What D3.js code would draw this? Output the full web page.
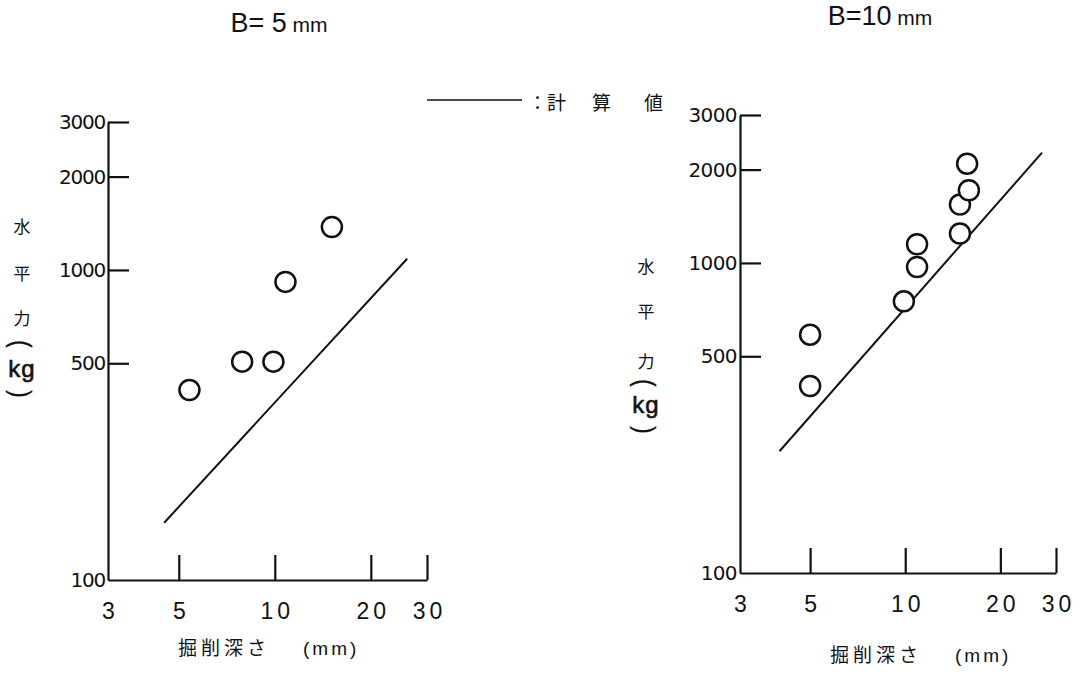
<!DOCTYPE html>
<html>
<head>
<meta charset="utf-8">
<script src="https://cdn.jsdelivr.net/npm/d3@7"></script>
<style>
  body { margin: 0; background: #fff; }
  svg { display: block; }
</style>
</head>
<body>
<svg id="chart" width="1084" height="676" font-family="Liberation Sans, Arial, sans-serif"></svg>
<script>
// ---- data ----
const xTicks = [3, 5, 10, 20, 30];
const yTicks = [100, 500, 1000, 2000, 3000];

// B = 5 mm
const leftDepth = [5.4, 7.9, 9.9, 10.8, 15.1];
const leftForce = [410, 506, 506, 915, 1376];
const leftCalcDepth = [4.5, 26];
const leftCalcForce = [153, 1087];

// B = 10 mm
const rightDepth = [5.0, 5.0, 9.9, 10.9, 10.9, 14.9, 14.9, 15.9, 15.7];
const rightForce = [587, 401, 752, 970, 1149, 1244, 1543, 1716, 2090];
const rightCalcDepth = [4.0, 27.1];
const rightCalcForce = [247, 2270];

const titles = [["B= 5", " mm"], ["B=10", " mm"]];
const yTitleChars = ["水", "平", "力"];
const yUnit = ["(", "kg", ")"];
const xTitle = "掘削深さ";
const xUnit = "(mm)";
const legendText = ["：", "計", "算", "値"];

const CJK = "'Noto Sans CJK JP', 'Noto Sans CJK SC', sans-serif";
const DEJAVU = "'DejaVu Sans', sans-serif";
const LIB = "'Liberation Sans', Arial, sans-serif";

// ---- layout ----
const svg = d3.select("#chart");
const panels = [
  { x0: 108, x1: 427, y0: 580, y1: 122, depth: leftDepth, force: leftForce,
    cd: leftCalcDepth, cf: leftCalcForce, title: titles[0], tx: 279, ty: 32,
    ytx: 22, yty: [225, 272, 317, 344, 368, 394], xtx: 178, xty: 655, ls: -1.2 },
  { x0: 740, x1: 1056, y0: 573, y1: 115, depth: rightDepth, force: rightForce,
    cd: rightCalcDepth, cf: rightCalcForce, title: titles[1], tx: 880, ty: 25,
    ytx: 646, yty: [265, 310, 360, 383, 404, 430], xtx: 830, xty: 662, ls: -0.6 }
];

panels.forEach((p, i) => {
  const x = d3.scaleLog().domain([3, 30]).range([p.x0, p.x1]);
  const y = d3.scaleLog().domain([100, 3000]).range([p.y0, p.y1]);
  const g = svg.append("g");

  // x axis
  const xa = g.append("g").attr("transform", `translate(0,${p.y0})`)
    .call(d3.axisBottom(x).tickValues(xTicks).tickFormat(d3.format("d"))
      .tickSizeInner(-25).tickSizeOuter(0).tickPadding(23));
  xa.select(".domain").attr("stroke", "#111").attr("stroke-width", 2.2);
  xa.selectAll(".tick line").attr("stroke", "#111").attr("stroke-width", 2.2)
    .filter(d => d === 3).remove();
  xa.selectAll(".tick text").attr("fill", "#111")
    .style("font-family", LIB).style("font-size", "23px")
    .attr("letter-spacing", d => d >= 10 ? 4 : 0)
    .attr("dx", d => d >= 10 ? 2 : 0);

  // y axis
  const ya = g.append("g").attr("transform", `translate(${p.x0},0)`)
    .call(d3.axisLeft(y).tickValues(yTicks).tickFormat(d3.format("d"))
      .tickSizeInner(-21).tickSizeOuter(0).tickPadding(3));
  ya.select(".domain").attr("stroke", "#111").attr("stroke-width", 2.2);
  ya.selectAll(".tick line").attr("stroke", "#111").attr("stroke-width", 2.2)
    .filter(d => d === 100).remove();
  ya.selectAll(".tick text").attr("fill", "#111")
    .style("font-family", DEJAVU).style("font-size", "20px")
    .attr("letter-spacing", p.ls);

  // calculated line
  const line = d3.line().x(d => x(d[0])).y(d => y(d[1]));
  g.append("path").datum(d3.zip(p.cd, p.cf)).attr("d", line)
    .attr("fill", "none").attr("stroke", "#111").attr("stroke-width", 2);

  // measured points
  g.selectAll("circle.pt").data(d3.zip(p.depth, p.force)).join("circle")
    .attr("class", "pt")
    .attr("cx", d => x(d[0])).attr("cy", d => y(d[1])).attr("r", 10)
    .attr("fill", "#fff").attr("stroke", "#111").attr("stroke-width", 2.5);

  // title
  const t = svg.append("text").attr("x", p.tx).attr("y", p.ty)
    .attr("text-anchor", "middle").style("font-family", LIB).style("font-size", "27px")
    .attr("fill", "#111");
  t.append("tspan").text(p.title[0]);
  t.append("tspan").style("font-size", "21px").text(p.title[1]);

  // y title
  yTitleChars.forEach((c, k) => {
    svg.append("text").attr("x", p.ytx).attr("y", p.yty[k])
      .attr("text-anchor", "middle").attr("dominant-baseline", "central")
      .style("font-family", CJK).style("font-size", "17px").attr("fill", "#111").text(c);
  });
  [3, 5].forEach((k, j) => {
    svg.append("g").attr("transform", `translate(${p.ytx},${p.yty[k]})`)
      .append("g").attr("transform", "rotate(90) scale(1,1.25)")
      .append("text").attr("x", 0).attr("y", 0)
      .attr("text-anchor", "middle").attr("dominant-baseline", "central")
      .style("font-family", LIB).style("font-size", "22px").attr("fill", "#111")
      .attr("stroke", "#111").attr("stroke-width", 0.3)
      .text(yUnit[j * 2]);
  });
  svg.append("text").attr("x", p.ytx).attr("y", p.yty[4])
    .attr("text-anchor", "middle").attr("dominant-baseline", "central")
    .style("font-family", LIB).style("font-size", "24px")
    .attr("letter-spacing", 1).attr("fill", "#111").attr("stroke", "#111")
    .attr("stroke-width", 0.6).text(yUnit[1]);

  // x title
  svg.append("text").attr("x", p.xtx).attr("y", p.xty)
    .style("font-family", CJK).style("font-size", "19px").attr("fill", "#111")
    .attr("letter-spacing", 4).text(xTitle);
  svg.append("text").attr("x", p.xtx + 125).attr("y", p.xty)
    .style("font-family", LIB).style("font-size", "19px").attr("fill", "#111")
    .attr("letter-spacing", 3).text(xUnit);
});

// legend
svg.append("line").attr("x1", 427).attr("x2", 522).attr("y1", 100).attr("y2", 100)
  .attr("stroke", "#111").attr("stroke-width", 1.6);
const lx = [528, 547, 592, 644];
legendText.forEach((c, k) => {
  svg.append("text").attr("x", lx[k]).attr("y", 101)
    .attr("dominant-baseline", "central").style("font-family", CJK)
    .style("font-size", "19px").attr("fill", "#111").text(c);
});
</script>
</body>
</html>
